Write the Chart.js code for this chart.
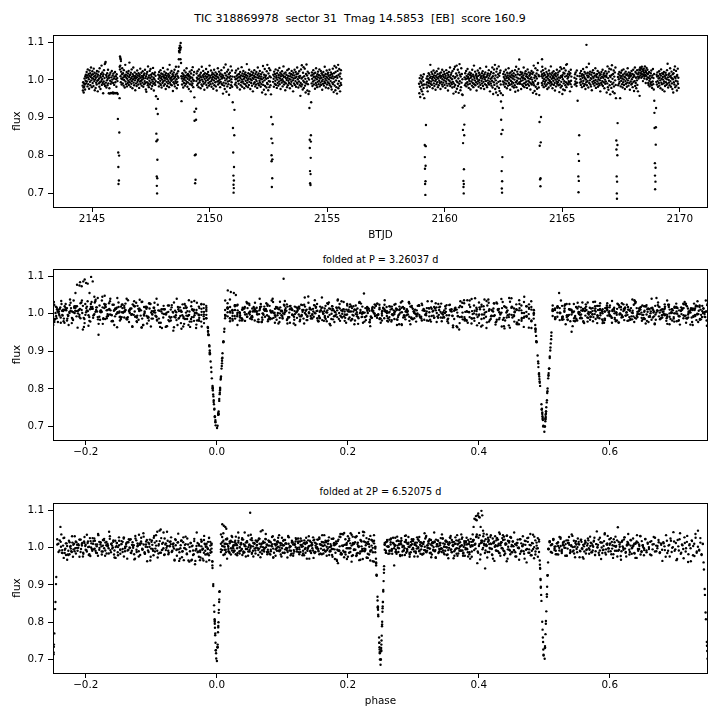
<!DOCTYPE html>
<html>
<head>
<meta charset="utf-8">
<script src="https://cdn.jsdelivr.net/npm/chart.js@4.4.1/dist/chart.umd.min.js"></script>
<style>
  body { margin: 0; background: #fff; font-family: "DejaVu Sans", sans-serif; }
  #fig { position: relative; width: 720px; height: 720px; overflow: hidden; background: #fff; }
  #fig canvas { position: absolute; left: 0; }
  .ttl { position: absolute; white-space: pre; transform: translateX(-50%); color: #000; }
</style>
</head>
<body>
<div id="fig">
  <div class="ttl" style="left:360px; top:13px; font-size:11px; line-height:11px;">TIC 318869978  sector 31  Tmag 14.5853  [EB]  score 160.9</div>
  <div class="ttl" style="left:380.5px; top:255px; font-size:9.7px; line-height:9.7px;">folded at P = 3.26037 d</div>
  <div class="ttl" style="left:380.5px; top:487px; font-size:9.7px; line-height:9.7px;">folded at 2P = 6.52075 d</div>
  <canvas id="lc" width="720" height="250" style="top:0px"></canvas>
  <canvas id="fold1" width="720" height="230" style="top:240px"></canvas>
  <canvas id="fold2" width="720" height="245" style="top:475px"></canvas>
</div>
<script>
// ephemeris (from the title of the folded panels)
const epoch = 2146.135;
const period = 3.26037;
const period2 = 6.52075;

// axis limits and ticks
const timeMin = 2143.34, timeMax = 2171.2;
const fluxMin = 0.664, fluxMax = 1.119;
const timeTicks = [2145, 2150, 2155, 2160, 2165, 2170];
const phaseTicks = [-0.2, 0.0, 0.2, 0.4, 0.6];
const fluxTicks = [0.7, 0.8, 0.9, 1.0, 1.1];

// out-of-eclipse stretches: start / end (BTJD) and flux in ppt around 1.0
const runStart = [2144.600, 2146.177, 2147.807, 2148.795, 2149.437, 2151.068, 2152.698, 2154.328, 2158.910,
                  2159.218, 2160.849, 2162.479, 2164.109, 2165.520, 2165.739, 2167.369, 2169.000];
const runEnd   = [2146.083, 2147.713, 2148.675, 2149.343, 2150.974, 2152.604, 2154.234, 2155.610, 2159.124,
                  2160.755, 2162.385, 2164.015, 2165.400, 2165.645, 2167.275, 2168.906, 2169.950];
const runPpt = [
  [-15,-28,-6,-20,-33,-9,-18,4,-12,-25,10,-2,14,-9,6,21,-4,12,-17,28,7,-11,16,2,-23,11,25,-5,18,-14,8,33,-1,13,-19,5,23,-8,15,3,-16,30,9,-3,19,-27,1,12,-21,6,-7,17,-12,24,-2,9,-30,14,0,22,-9,4,-18,31,-6,11,-24,7,16,-3,38,-13,2,20,-8,10,-35,15,-4,26,-11,5,42,-16,45,48,-7,13,-20,8,-1,18,-14,3,27,-9,11,-35,6,-22,14,-36,-2,19,-10,-34,7,-5,24,-35,1,12,-33,-8,17,-36,4,-13,9,-34,21,-6,-35,10,2,-18,15,-34,5,-3],
  [35,28,38,10,-6,22,4,-12,15,31,2,-9,18,7,-15,26,0,12,-20,9,40,-4,14,-11,6,21,-17,3,11,-8,17,-2,24,-13,8,46,-6,13,1,-18,19,5,-10,28,-3,9,-22,15,2,33,-7,11,-14,6,20,-1,-27,10,4,-9,16,-16,7,25,-5,12,0,-12,18,3,-21,9,14,-4,30,-10,6,-2,19,-15,11,1,-7,23,8,-18,4,13,-11,17,-3,27,-8,5,-25,10,-31,16,-6,21,3,-14,36,-9,7,-19,12,-2,24,-12,5,29,-7,14,-23,9,1,-16,18,-4,32,-10,6,-28,15,2,-8,20,-13,11,-3],
  [-6,14,3,-17,21,8,-9,12,-2,26,-13,5,17,-20,9,1,-8,15,32,-4,10,-15,6,22,-1,-11,13,4,-24,18,7,-5,11,-16,2,28,-9,16,-3,8,-19,12,40,-7,3,19,-12,6,-2,24,-14,9,1,15,-29,11,-6,20,4,-10,27,-17,8,-3,14,35,-8,2,-22,17,-5,10,-13,23,6],
  [10,-56,4,-12,18,-3,9,-20,14,2,-8,25,6,-15,11,-1,20,-10,7,31,-5,13,-18,3,16,-7,9,-24,12,0,22,-11,5,8,-30,17,-4,26,-14,6,-9,34,1,-19,13,-2,21],
  [-3,17,6,-14,23,2,-9,11,-19,28,4,-6,14,-1,9,-22,19,7,-12,35,1,-16,12,-4,24,8,-10,15,-26,3,18,-7,10,-2,29,-13,6,16,-20,9,0,21,-8,13,-15,4,38,-5,11,-11,7,25,-3,-18,14,2,19,-9,8,-23,15,-1,27,-14,5,12,-6,20,-17,3,10,-28,16,-4,8,31,-12,6,-2,22,-8,13,1,-19,17,-5,9,26,-10,4,14,-13,7,-36,11,-7,33,-15,5,-24,18,-1,41,-9,12,-31,3,22,-17,8,-4,27,-11,15,-39,6,-2,19,-21,10,36,-14,2,-6,25,-18,9],
  [8,-12,19,2,-7,25,-15,11,4,-20,14,-3,30,7,-10,16,-1,9,-25,21,5,-14,12,-6,34,1,-18,17,-4,10,24,-9,3,-22,15,8,-11,20,-2,13,-16,6,42,-7,11,0,-19,18,4,-13,27,-5,9,15,-24,2,12,-8,22,-1,-15,14,6,-30,19,3,-10,11,26,-6,8,-17,16,1,-12,21,-3,7,-21,13,33,-9,5,17,-14,10,-2,24,-7,4,-18,15,9,-11,2,-33,20,-5,37,-13,6,-26,14,-1,29,-16,8,-38,12,3,-20,23,-8,40,-11,5,-27,17,-3,31,-19,10,-4,26,-14,7],
  [-5,14,3,-18,22,9,-10,16,-2,28,-13,6,11,-21,18,1,-8,25,-15,7,13,-4,32,-11,4,19,-24,10,-1,15,-7,23,2,-17,12,-3,36,8,-12,17,-6,9,-27,20,5,-9,14,0,-19,26,6,-14,11,-2,29,-8,3,18,-22,10,1,-11,16,-5,24,7,-16,13,-1,-30,19,4,-9,12,27,-13,5,-3,21,-18,8,15,-7,33,-10,2,17,-20,9,-4,23,6,-14,11,-42,-8,28,-17,4,39,-12,7,-25,19,-2,34,-21,10,-6,30,-15,3,-33,16,-9,41,-4,12,-28,22,-11,5,-37,18,1],
  [12,-9,20,3,-16,14,-4,26,8,-12,17,-1,9,-23,19,5,-8,31,-14,10,2,-19,15,-5,22,7,-11,13,-2,28,-17,4,11,-7,24,-13,6,18,-3,-26,14,1,-10,21,8,-15,12,-4,35,-8,3,16,-20,9,-1,25,-12,6,15,-6,19,-22,11,2,-9,27,-14,7,13,-3,20,-18,5,-25,16,-7,10,30,-11,4,-32,18,-5,37,-15,8,-27,21,-1,33,-19,11,-36,6,24,-10,40,-22,14,-3,29,-16,9,-30,17,-8,26,-13,3],
  [-10,-35,5,-18,-45,-4,12,-25,-8,3,-30,-14,8,-38,-2,-21,15,-12],
  [-12,4,-20,-6,10,-30,2,-15,18,-8,-2,14,-18,6,40,-10,9,-4,21,-13,3,16,-22,8,-1,25,-9,12,-16,5,19,-3,-26,11,1,-11,23,7,-6,15,-19,4,30,-14,9,-2,17,-8,12,-24,6,20,-5,10,-12,27,2,-17,14,-7,8,22,-1,-13,16,5,-21,11,-4,26,-9,3,18,-15,7,-28,13,0,21,-10,9,-3,33,-16,6,14,-7,19,-11,2,-20,24,-5,10,-36,-9,29,-18,5,35,-13,8,-31,17,-2,38,-23,12,-6,27,-16,4,-34,20,-10,42,-3,14,-27,9,-19,31,-7,16,-38,2],
  [7,-14,18,2,-9,24,-17,11,4,-6,29,-12,8,15,-21,3,-2,20,-10,13,-25,6,17,-4,10,-15,27,1,-8,14,-19,9,38,-11,5,-1,22,-14,12,-6,16,-28,8,3,-10,25,-3,11,-18,19,0,-7,14,31,-13,6,-22,10,-2,18,-9,4,23,-16,12,-5,8,-24,15,2,-11,20,7,-3,35,-14,9,-19,13,-1,17,-8,5,26,-12,11,-4,-30,16,3,-9,21,-15,6,-2,33,-20,10,-37,18,-6,28,-13,4,40,-24,12,-1,-33,22,-9,30,-17,7,-40,15,-5,36,-21,11,-29,19,-3,25,-12],
  [-4,16,-12,8,22,-7,3,-18,14,-1,27,-10,9,5,-22,19,-3,12,-15,6,31,-8,2,17,-13,10,-26,20,-2,7,-11,14,-5,24,-17,4,11,-8,18,-20,9,1,-14,26,-31,13,-6,35,-19,7,-2,22,-10,15,-28,4,29,-9,54,-6,13,-10,3,21,-3,-24,15,8,-12,19,-1,6,-16,12,33,-9,4,-19,17,2,-7,23,-13,10,-4,15,-21,8,28,-11,5,-2,20,-15,11,-6,14,3,-25,18,-9,7,24,-12,1,16,-5,-34,20,-8,38,-14,6,-29,12,-2,31,-18,9,-37,17,4,-23,26,-11,45,-8,13,-20,10],
  [22,10,-8,15,-14,5,26,-3,11,-19,18,2,-10,13,-5,30,-16,7,-1,21,-12,9,-24,16,4,-7,12,-20,25,0,-9,17,-3,8,-15,36,-6,14,3,-11,19,-22,6,10,-2,23,-13,5,15,-8,-28,12,1,18,-17,9,-4,27,-10,3,14,-6,20,-14,7,-1,-32,24,-12,6,34,-20,11,-5,29,-16,8,-37,13,2,-25,19,-9,31,-3,17,-27,9,-14,25,-6,40,-19,11,42,-9,4,16,-12,8,-3,22,-7,13,-5,-30,18,-11,27,-2,9,-18],
  [6,-12,15,-4,20,-9,3,-16,25,-7,11],
  [10,-7,18,2,-13,24,-4,11,-19,15,6,-9,29,-2,13,-16,8,21,-11,4,-24,17,1,-6,34,-14,12,-3,19,7,-20,10,43,-8,16,-1,22,-12,5,-17,14,3,-27,20,-5,9,26,-10,6,-2,18,-15,11,-7,31,0,-21,13,8,-11,16,-4,24,-18,7,2,-9,19,-14,12,-1,-30,15,5,-8,21,-12,9,-3,27,-16,6,14,-6,18,-22,10,1,-10,23,-4,12,8,-33,17,-9,36,-19,5,-26,22,-2,30,-14,11,-38,8,-5,28,-21,13,39,-11,3,-31,16,-7,25,-17,9,-35,20,-1,33,-13],
  [8,-14,16,2,-9,21,-5,12,-48,6,-17,19,-2,10,25,-11,4,-20,14,-6,28,1,-13,9,17,-24,7,-3,22,-10,13,3,-18,15,-7,31,-1,11,-15,20,5,-8,14,-26,9,18,-4,12,-12,24,2,-9,16,-19,7,27,-5,14,-29,10,-3,33,-16,21,-8,6,-22,17,-1,26,-13,9,-30,15,4,20,8,28,-42,26,33,12,18,30,6,22,35,15,9,28,-3,24,13,30,19,4,10,36,14,25,-8,21,11,32,2,17,27,7,16,-8,-13,6,21,-2,-17,11,3,-10,18,-6,25,-14,7,-21,12,-4,29,-11,5,-25,16],
  [-5,14,-12,9,20,-3,-18,11,4,-8,23,-15,6,16,-1,-22,12,28,-7,3,-11,18,-26,8,1,15,-9,21,-4,-30,10,-16,5,19,-6,13,-13,2,26,-10,43,7,-20,14,0,-7,17,-14,9,31,-3,11,-18,6,22,-9,4,-24,15,2,-33,18,-6,27,-12,8,36,-19,5,-2,24,-15,10,-28,13,-4,30,-10,6,-21]
];

// in-eclipse points
const dipTime = [
  2146.091,2146.172,2146.100,2146.160,2146.114,2146.152,2146.120,2146.143,2146.126,
  2147.722,2147.801,2147.727,2147.796,2147.736,2147.787,2147.739,2147.780,2147.753,2147.774,2147.757,2147.768,
  2149.352,2149.428,2149.358,2149.424,2149.361,2149.412,2149.375,2149.403,2149.386,
  2150.985,2151.058,2150.995,2151.050,2151.005,2151.039,2151.014,2151.034,2151.018,2151.031,2151.021,
  2152.612,2152.621,2152.684,2152.629,2152.677,2152.636,2152.671,2152.638,2152.665,2152.649,
  2154.241,2154.321,2154.247,2154.310,2154.260,2154.307,2154.263,2154.302,2154.272,2154.296,2154.277,2154.292,
  2159.133,2159.203,2159.152,2159.196,2159.157,2159.189,2159.161,2159.184,2159.167,2159.178,
  2160.763,2160.841,2160.767,2160.834,2160.777,2160.831,2160.782,2160.819,2160.797,2160.814,2160.800,2160.810,
  2162.392,2162.475,2162.396,2162.470,2162.403,2162.463,2162.409,2162.453,2162.423,2162.445,2162.430,2162.441,
  2164.023,2164.097,2164.034,2164.088,2164.043,2164.076,2164.057,2164.073,
  2165.655,2165.721,2165.677,2165.712,2165.685,2165.705,2165.692,
  2167.284,2167.355,2167.301,2167.347,2167.305,2167.344,2167.315,2167.334,2167.322,2167.328,
  2168.916,2168.991,2168.921,2168.984,2168.927,2168.978,2168.941,2168.970,2168.946,2168.965,2168.951
];
const dipFlux = [
  0.963,0.952,0.897,0.861,0.808,0.800,0.770,0.734,0.725,
  0.957,0.950,0.924,0.910,0.858,0.842,0.838,0.789,0.745,0.740,0.720,0.700,
  0.954,0.924,0.916,0.895,0.892,0.803,0.801,0.736,0.727,
  0.941,0.921,0.873,0.854,0.808,0.770,0.747,0.734,0.723,0.714,0.702,
  0.962,0.902,0.883,0.845,0.833,0.801,0.790,0.785,0.740,0.717,
  0.970,0.941,0.926,0.854,0.842,0.837,0.820,0.794,0.759,0.751,0.727,0.722,
  0.952,0.881,0.828,0.825,0.796,0.773,0.765,0.732,0.725,0.696,
  0.960,0.932,0.927,0.882,0.868,0.854,0.833,0.764,0.733,0.725,0.717,0.700,
  0.965,0.960,0.943,0.926,0.895,0.868,0.857,0.796,0.759,0.732,0.713,0.702,
  0.960,0.902,0.889,0.835,0.826,0.740,0.737,0.719,
  0.945,0.854,0.804,0.786,0.745,0.733,0.703,
  0.952,0.886,0.840,0.828,0.816,0.801,0.745,0.731,0.700,0.686,
  0.945,0.926,0.913,0.875,0.873,0.829,0.780,0.768,0.747,0.731,0.711
];

// flare near BTJD 2148.74
const flareTime = [2148.683,2148.692,2148.700,2148.712,2148.715,2148.723,2148.731,2148.738,2148.745,2148.753,2148.762,2148.770,2148.778,2148.786];
const flareFlux = [1.035,1.055,1.077,1.075,1.084,1.073,1.086,1.091,1.082,1.080,1.055,1.098,1.086,1.045];

// post-eclipse brightenings and a lone outlier
const extraTime = [2146.190, 2146.205, 2146.220, 2146.230, 2164.141, 2164.150, 2166.030];
const extraFlux = [1.062, 1.058, 1.055, 1.050, 1.055, 1.035, 1.093];

// ---- build the light curve ----
const time = [], flux = [];
runPpt.forEach((vals, r) => {
  const step = (runEnd[r] - runStart[r]) / (vals.length - 1);
  vals.forEach((v, i) => { time.push(runStart[r] + i * step); flux.push(1 + v / 1000); });
});
[[dipTime, dipFlux], [flareTime, flareFlux], [extraTime, extraFlux]].forEach(([ts, fs]) => {
  ts.forEach((t, i) => { time.push(t); flux.push(fs[i]); });
});

function fold(p) {
  return time.map((t, i) => {
    let ph = ((t - epoch) / p) % 1;
    if (ph < 0) ph += 1;
    if (ph >= 0.75) ph -= 1;
    return { x: ph, y: flux[i] };
  });
}

Chart.defaults.font.family = '"DejaVu Sans", sans-serif';
Chart.defaults.color = '#000';

const frame = {
  id: 'frame',
  afterDraw(chart) {
    const { ctx, chartArea: a } = chart;
    ctx.save();
    ctx.strokeStyle = '#000';
    ctx.lineWidth = 1;
    ctx.strokeRect(a.left + 0.5, a.top + 0.5, a.right - a.left - 1, a.bottom - a.top);
    ctx.restore();
  }
};

const phaseLabel = v => (v < 0 ? '\u2212' : '') + Math.abs(v).toFixed(1);

function makePanel(id, pts, o) {
  return new Chart(document.getElementById(id), {
    type: 'scatter',
    data: { datasets: [{ data: pts, pointRadius: 1.2, pointBackgroundColor: '#000', pointBorderWidth: 0, pointHoverRadius: 0 }] },
    options: {
      responsive: false,
      animation: false,
      events: [],
      layout: { padding: { left: 0, right: 12, top: o.top, bottom: o.bottom } },
      plugins: { legend: { display: false }, tooltip: { enabled: false } },
      scales: {
        x: {
          type: 'linear', min: o.min, max: o.max,
          afterFit: s => { s.height = o.xh; },
          afterBuildTicks: s => { s.ticks = o.ticks.map(v => ({ value: v })); },
          ticks: { callback: o.fmt, font: { size: 10.4 }, padding: 1, maxRotation: 0, autoSkip: false },
          grid: { drawOnChartArea: false, tickLength: 5, color: '#000' },
          border: { display: false },
          title: { display: !!o.title, text: o.title, font: { size: 10.4 }, padding: { top: 0, bottom: 5.8 } }
        },
        y: {
          min: fluxMin, max: fluxMax,
          afterFit: s => { s.width = 53; },
          afterBuildTicks: s => { s.ticks = fluxTicks.map(v => ({ value: v })); },
          ticks: { callback: v => v.toFixed(1), font: { size: 10.4 }, padding: 4 },
          grid: { drawOnChartArea: false, tickLength: 5, color: '#000' },
          border: { display: false },
          title: { display: true, text: 'flux', font: { size: 10.4 }, padding: { top: 11.3, bottom: 0 } }
        }
      }
    },
    plugins: [frame]
  });
}

makePanel('lc', time.map((t, i) => ({ x: t, y: flux[i] })),
  { min: timeMin, max: timeMax, ticks: timeTicks, fmt: v => String(v), title: 'BTJD', top: 35, bottom: 3, xh: 40 });
makePanel('fold1', fold(period),
  { min: -0.25, max: 0.75, ticks: phaseTicks, fmt: phaseLabel, title: '', top: 29, bottom: 5, xh: 25 });
makePanel('fold2', fold(period2),
  { min: -0.25, max: 0.75, ticks: phaseTicks, fmt: phaseLabel, title: 'phase', top: 28, bottom: 7, xh: 40 });
</script>
</body>
</html>
